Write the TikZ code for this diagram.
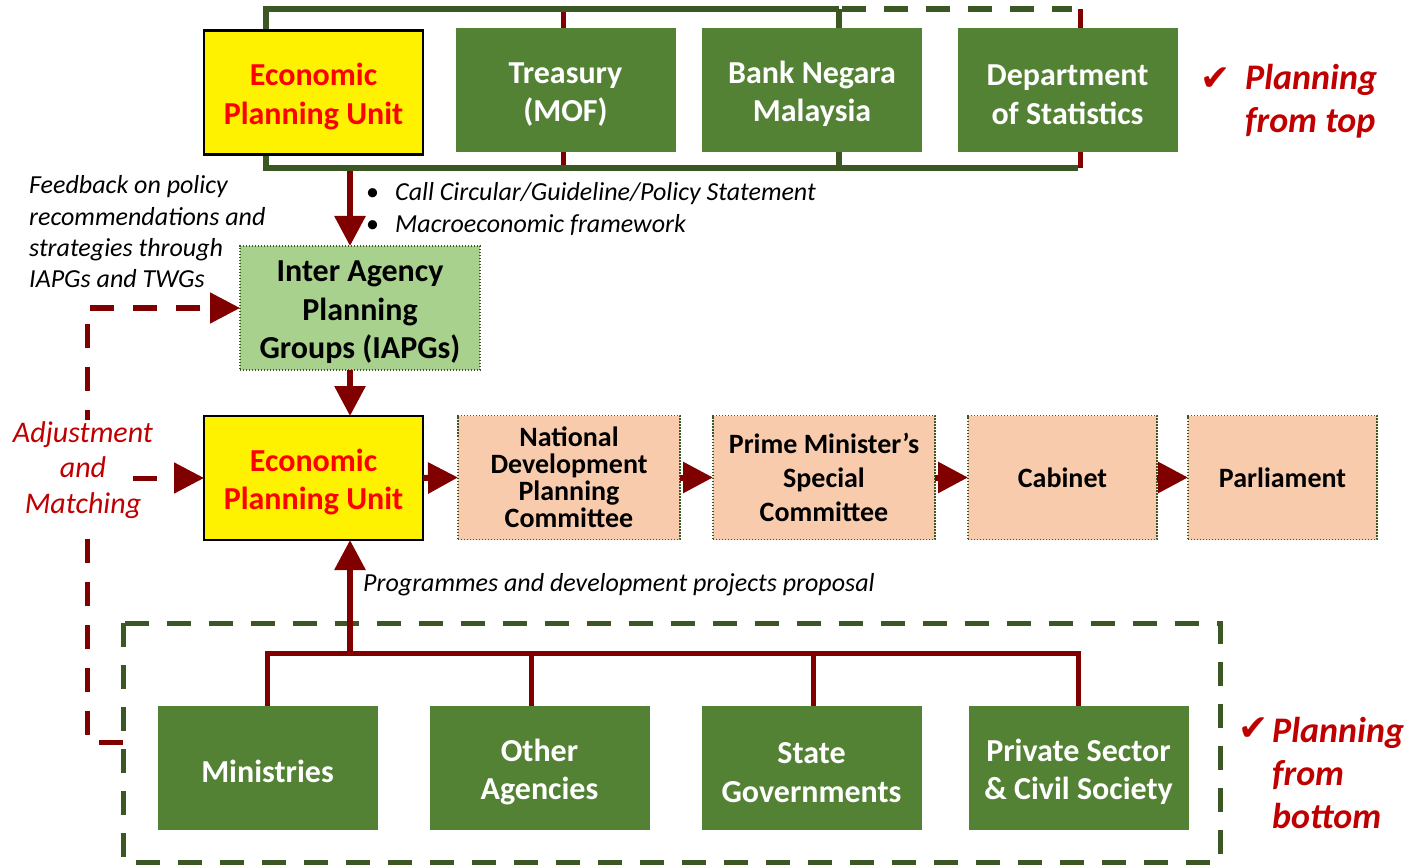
\documentclass[tikz,border=0pt]{standalone}
\usepackage{fontspec}
\setmainfont{Carlito}
\newfontfamily\tickfont{DejaVu Sans}
\usepackage{tikz}
\usetikzlibrary{arrows.meta,positioning,backgrounds}
\definecolor{leaf}{HTML}{548235}
\definecolor{pine}{HTML}{3A5724}
\definecolor{maroon}{HTML}{800000}
\definecolor{brick}{HTML}{C00000}
\definecolor{mint}{HTML}{A9D18E}
\definecolor{peach}{HTML}{F8CBAD}
\newcommand\lift{\rule{0pt}{30pt}}

\begin{document}
\begin{tikzpicture}[
  x=1pt, y=-1pt,
  box/.style={inner sep=0pt, outer sep=0pt, align=center, minimum height=124pt},
  bigtext/.style={font=\bfseries\fontsize{32}{38.5}\selectfont},
  epu/.style={box, bigtext, draw=black, line width=2.5pt, fill=yellow, text=red, minimum width=219pt},
  org/.style={box, bigtext, fill=leaf, text=white, minimum width=220pt},
  group/.style={box, bigtext, fill=mint, draw=pine, line width=1.5pt, dash pattern=on 1.2pt off 1.8pt,
    minimum width=240pt},
  stage/.style={box, fill=peach, draw=pine, line width=1.5pt, dash pattern=on 1.2pt off 1.8pt,
    minimum width=222pt, font=\bfseries\fontsize{28}{27}\selectfont},
  arrow/.style={draw=maroon, line width=6pt, -{Triangle[length=30pt,width=30pt]}},
  dasharrow/.style={arrow, line width=5pt, dash pattern=on 24pt off 19pt},
  link/.style={draw=maroon, line width=5pt},
  frame/.style={draw=pine, line width=6pt},
  note/.style={inner sep=0pt, align=left, font=\itshape\fontsize{26}{31.3}\selectfont},
  tag/.style={inner sep=0pt, align=left, text=brick, font=\bfseries\itshape\fontsize{36}{43}\selectfont},
  tick/.style={inner sep=0pt, text=brick, font=\tickfont\fontsize{36}{36}\selectfont}
]
\useasboundingbox (0,0) rectangle (1412,866);

\node[epu] (plan) at (313.5,92.5) {\lift Economic\\Planning Unit};
\node[org] (mof)  at (565.5,90) {\lift Treasury\\(MOF)};
\node[org] (bnm)  at (812,90) {\lift Bank Negara\\Malaysia};
\node[org] (dos)  at (1067.5,90) {\lift Department\\of Statistics};

\node[group] (iapg) at (360,308) {\lift Inter Agency\\Planning\\Groups (IAPGs)};
\node[epu] (epu) at (313.5,478) {\lift Economic\\Planning Unit};
\node[stage] (ndpc) at (569,477.5) {National\\Development\\Planning\\Committee};
\node[stage, font=\bfseries\fontsize{28}{34}\selectfont] (pmsc) at (824,477.5) {Prime Minister's\\Special\\Committee};
\node[stage, minimum width=189pt] (cab)  at (1062.5,477.5) {Cabinet};
\node[stage, minimum width=189pt] (parl) at (1282.5,477.5) {Parliament};

\node[org] (mins)  at (267.5,768) {\lift Ministries};
\node[org] (other) at (539.5,768) {\lift Other\\Agencies};
\node[org] (state) at (811.5,768) {\lift State\\Governments};
\node[org] (priv)  at (1078.5,768) {\lift Private Sector\\\& Civil Society};

\coordinate (ftl) at (266,9);
\coordinate (ftm) at (839,9);
\coordinate (ftr) at (1080,9);
\coordinate (fbl) at (266,168);
\coordinate (fbr) at (1080,168);
\coordinate (bus) at (350,653);
\coordinate (loopend) at (123,742);
\coordinate (loopturn) at (87,308);
\coordinate (adjstart) at (133,478);

\begin{scope}[on background layer]
\draw[link] ([xshift=-2.5pt]mof.north |- ftl) -- ([xshift=-2.5pt]mof.north |- fbl);
\draw[link] (ftr) -- (fbr);
\draw[arrow] ([xshift=-10pt]iapg.north |- fbl) -- ([xshift=-10pt]iapg.north);
\draw[frame] (ftm) -- (ftl) -- (fbl) -- ([xshift=-2pt]fbr);
\draw[frame] (ftm) -- (ftm |- fbl);
\draw[frame, dash pattern=on 24pt off 18pt] ([xshift=3pt]ftm) -- ([xshift=-8pt]ftr);
\end{scope}

\draw[arrow] ([xshift=-10pt]iapg.south) -- ([xshift=-10pt]iapg.south |- epu.north);
\draw[arrow] (epu.east) -- (ndpc.west);
\draw[arrow] (ndpc.east) -- (pmsc.west);
\draw[arrow] (pmsc.east) -- (cab.west);
\draw[arrow] (cab.east) -- (parl.west);

\draw[frame, line width=5pt, dash pattern=on 24pt off 18pt] (123,623) rectangle (1220,862);
\draw[link] (mins.north) |- (priv.north |- bus) -- (priv.north);
\draw[link] ([xshift=-8pt]other.north) -- ([xshift=-8pt]other.north |- bus);
\draw[link] ([xshift=2pt]state.north) -- ([xshift=2pt]state.north |- bus);
\draw[arrow] (bus) -- (bus |- epu.south);

\draw[dasharrow] (loopend) -| (loopturn) -- (iapg.west);
\node[inner sep=2pt, fill=white, align=center, text=brick,
  font=\itshape\fontsize{30}{35.5}\selectfont] (adj) at (83,470) {Adjustment\\and\\Matching};
\draw[dasharrow] (adjstart) -- (epu.west);

\node[note, anchor=west] (brief) at (366,209)
  {\makebox[29pt][l]{\upshape\textbullet}Call Circular/Guideline/Policy Statement\\
   \makebox[29pt][l]{\upshape\textbullet}Macroeconomic framework};
\node[note, anchor=west] (fback) at (29,232)
  {Feedback on policy\\recommendations and\\strategies through\\IAPGs and TWGs};
\node[note, anchor=west] (prop) at (363,585) {Programmes and development projects proposal};

\node[tick] (tick1) at (1216,79) {✔};
\node[tag, anchor=west] (toptag) at (1245,101) {Planning\\from top};
\node[tick] (tick2) at (1254,729) {✔};
\node[tag, anchor=west] (bottag) at (1272,773) {Planning\\from\\bottom};
\end{tikzpicture}
\end{document}
